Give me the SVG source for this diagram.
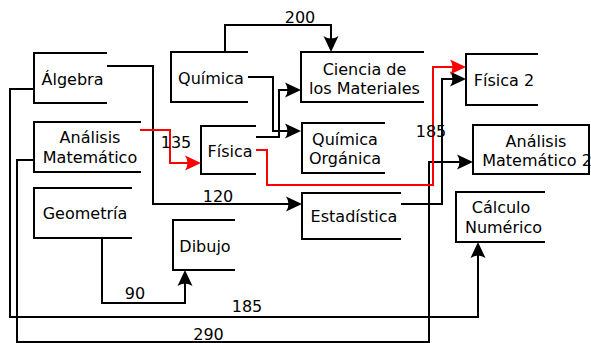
<svg xmlns="http://www.w3.org/2000/svg" width="591" height="343" viewBox="0 0 591 343">
<style>
.n{fill:none;stroke:#000;stroke-width:2}
.c{fill:none;stroke:#000;stroke-width:2;marker-end:url(#ab)}
.r{fill:none;stroke:#f00;stroke-width:2;marker-end:url(#ar)}
text{font-family:"DejaVu Sans","Liberation Sans",sans-serif;font-size:16px;fill:#000;text-anchor:middle}
</style>
<defs>
<marker id="ab" markerUnits="userSpaceOnUse" viewBox="-17 -9 18 18" markerWidth="18" markerHeight="18" refX="-4" refY="0" orient="auto">
<path d="M0,0 L-16,-7.5 Q-11,0 -16,7.5 Z" fill="#000"/>
</marker>
<marker id="ar" markerUnits="userSpaceOnUse" viewBox="-17 -9 18 18" markerWidth="18" markerHeight="18" refX="-4" refY="0" orient="auto">
<path d="M0,0 L-16,-7.5 Q-11,0 -16,7.5 Z" fill="#f00"/>
</marker>
</defs>
<g id="connectors">
<path class="c" d="M225,52 V25 H331 V48"/>
<path class="c" d="M248,77 H273 V131 H297"/>
<path class="c" d="M256,137 H279 V90 H297"/>
<path class="c" d="M107,66 H153 V204 H298"/>
<path class="c" d="M401,204 H442 V79 H462"/>
<path class="c" d="M34,89 H10 V317 H478 V246"/>
<path class="c" d="M34,160 H17 V342 H429 V162 H469"/>
<path class="c" d="M102,238 V303 H185 V274"/>
<path class="r" d="M140,130 H170 V163 H197"/>
<path class="r" d="M256,150 H267 V185 H433 V67 H462"/>
<text x="300" y="23">200</text>
<text x="176" y="148">135</text>
<text x="218" y="202">120</text>
<text x="431" y="137">185</text>
<text x="135" y="299">90</text>
<text x="247" y="312">185</text>
<text x="208.5" y="340">290</text>
</g>
<g id="algebra"><path class="n" d="M107,53 H34 V103 H107"/><text x="72.5" y="85">Álgebra</text></g>
<g id="analisis"><path class="n" d="M141,122 H34 V172 H141"/><text x="90" y="143">Análisis</text><text x="90" y="163">Matemático</text></g>
<g id="geometria"><path class="n" d="M132,188 H34 V238 H132"/><text x="85" y="219">Geometría</text></g>
<g id="quimica"><path class="n" d="M248,52 H171 V102 H248"/><text x="211" y="84">Química</text></g>
<g id="fisica"><path class="n" d="M256,126 H201 V174 H256"/><text x="230" y="157">Física</text></g>
<g id="dibujo"><path class="n" d="M235,220 H173 V270 H235"/><text x="205" y="252">Dibujo</text></g>
<g id="ciencia"><path class="n" d="M424,52 H301 V102 H424"/><text x="364.5" y="75">Ciencia de</text><text x="364.5" y="94">los Materiales</text></g>
<g id="quimica-organica"><path class="n" d="M385,123 H302 V173 H385"/><text x="345" y="145">Química</text><text x="345" y="164">Orgánica</text></g>
<g id="estadistica"><path class="n" d="M401,193 H302 V239 H401"/><text x="354" y="222">Estadística</text></g>
<g id="fisica2"><path class="n" d="M538,54 H466 V105 H538"/><text x="504" y="86">Física 2</text></g>
<g id="analisis2"><rect class="n" x="473" y="125" width="116" height="49"/><text x="536" y="147">Análisis</text><text x="537" y="166">Matemático 2</text></g>
<g id="calculo"><path class="n" d="M545,192 H456 V242 H545"/><text x="501" y="213">Cálculo</text><text x="503.5" y="233">Numérico</text></g>
</svg>
